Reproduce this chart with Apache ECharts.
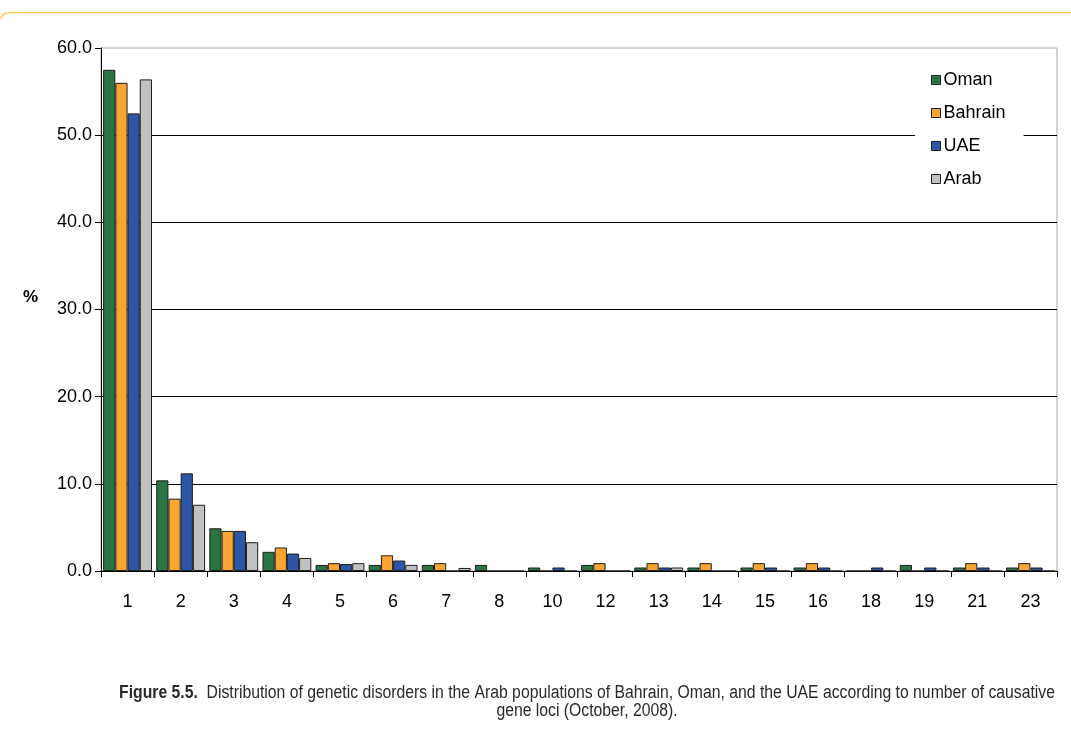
<!DOCTYPE html>
<html>
<head>
<meta charset="utf-8">
<script src="https://cdn.jsdelivr.net/npm/echarts@6/dist/echarts.min.js"></script>
<style>
  html, body { margin: 0; padding: 0; background: #ffffff; }
  #chart { width: 1071px; height: 741px; }
</style>
</head>
<body>
<div id="chart"></div>
<script>
// Number of causative gene loci per disorder
const loci = ['1', '2', '3', '4', '5', '6', '7', '8', '10', '12', '13', '14', '15', '16', '18', '19', '21', '23'];

// Share of disorders (%) in each population
const oman    = [57.5, 10.4, 4.9, 2.2, 0.7, 0.7, 0.7, 0.7, 0.4, 0.7, 0.4, 0.4, 0.4, 0.4, 0, 0.7, 0.4, 0.4];
const bahrain = [56.0, 8.3, 4.6, 2.7, 0.9, 1.8, 0.9, 0, 0, 0.9, 0.9, 0.9, 0.9, 0.9, 0, 0, 0.9, 0.9];
const uae     = [52.5, 11.2, 4.6, 2.0, 0.8, 1.2, 0, 0, 0.4, 0, 0.4, 0, 0.4, 0.4, 0.4, 0.4, 0.4, 0.4];
const arab    = [56.4, 7.6, 3.3, 1.5, 0.9, 0.7, 0.35, 0, 0, 0, 0.4, 0, 0, 0, 0, 0, 0, 0];

const seriesNames = ['Oman', 'Bahrain', 'UAE', 'Arab'];
const seriesColors = ['#2c7444', '#f9a532', '#2d56a6', '#c0c1c3'];
const seriesData = [oman, bahrain, uae, arab];

const captionBold = 'Figure 5.5.';
const captionLine1 = 'Distribution of genetic disorders in the Arab populations of Bahrain, Oman, and the UAE according to number of causative';
const captionLine2 = 'gene loci (October, 2008).';

const font = '"Liberation Sans", Arial, sans-serif';

const chart = echarts.init(document.getElementById('chart'), null, { renderer: 'canvas' });

chart.setOption({
  animation: false,
  backgroundColor: '#ffffff',
  grid: {
    left: 101, right: 14, top: 48, bottom: 170,
    show: true, borderColor: '#a6a6a6', borderWidth: 1, backgroundColor: 'transparent'
  },
  legend: {
    orient: 'vertical',
    left: 915, top: 63,
    padding: [8, 18, 8, 16],
    backgroundColor: '#ffffff',
    itemWidth: 9, itemHeight: 9, itemGap: 15,
    icon: 'rect',
    itemStyle: { borderColor: '#222222', borderWidth: 1 },
    textStyle: { fontFamily: font, fontSize: 18, color: '#000000', padding: [0, 0, 0, -2] },
    data: seriesNames
  },
  xAxis: {
    type: 'category',
    data: loci,
    axisLine: { lineStyle: { color: '#000000', width: 1 } },
    axisTick: { show: true, length: 6, lineStyle: { color: '#000000' } },
    axisLabel: { fontFamily: font, fontSize: 18, color: '#000000', margin: 22 },
    splitLine: { show: false }
  },
  yAxis: {
    type: 'value',
    min: 0, max: 60, interval: 10,
    axisLine: { show: true, lineStyle: { color: '#000000', width: 1 } },
    axisTick: { show: true, length: 6, lineStyle: { color: '#000000' } },
    axisLabel: {
      fontFamily: font, fontSize: 18, color: '#000000', margin: 9,
      formatter: v => v.toFixed(1)
    },
    splitLine: { show: true, showMaxLine: false, lineStyle: { color: '#000000', width: 1 } }
  },
  series: seriesNames.map((name, i) => ({
    name: name,
    type: 'bar',
    data: seriesData[i],
    barGap: '0%',
    barCategoryGap: '8%',
    itemStyle: { color: seriesColors[i], borderColor: '#1e1e1e', borderWidth: 1 }
  })),
  graphic: [
    {
      // rounded frame around the figure; only its top-left corner and top edge fall on the canvas
      type: 'rect',
      shape: { x: -1.5, y: 12.5, width: 1200, height: 2000, r: 12 },
      style: { fill: 'none', stroke: '#ffd04f', lineWidth: 1.5 }
    },
    {
      type: 'text',
      left: 23, top: 289,
      style: { text: '%', font: 'bold 17px ' + font, fill: '#000000' }
    },
    {
      // condensed caption under the chart
      type: 'text',
      x: 587, y: 684,
      scaleX: 0.875,
      style: {
        text: '{b|' + captionBold + '}  ' + captionLine1 + '\n' + captionLine2,
        align: 'center',
        font: '18px ' + font,
        fill: '#2a2a2a',
        lineHeight: 18,
        rich: {
          b: { font: 'bold 18px ' + font, fill: '#2a2a2a' }
        }
      }
    }
  ]
});
</script>
</body>
</html>
